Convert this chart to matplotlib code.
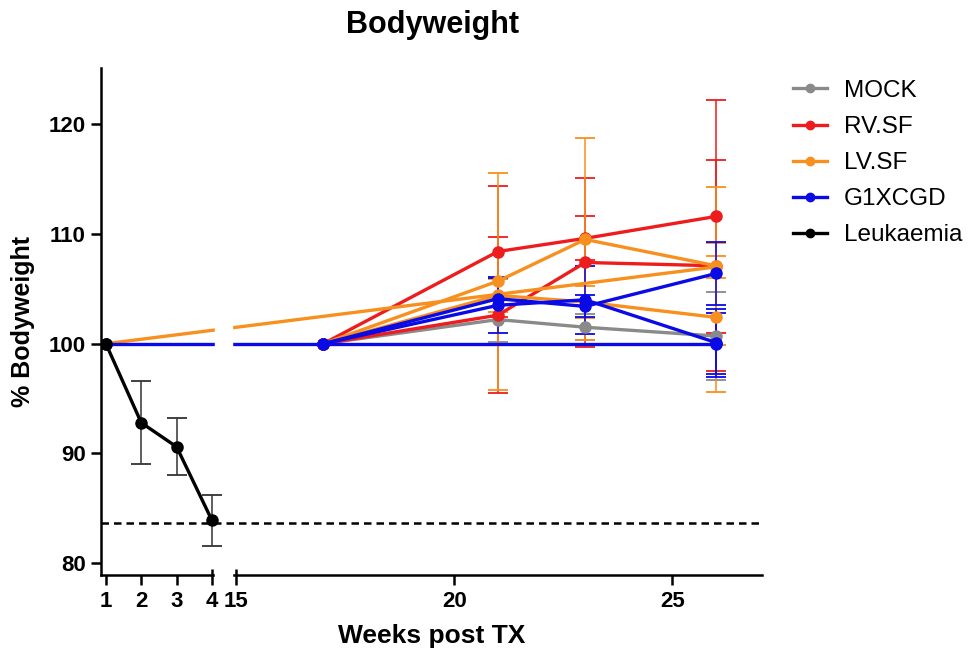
import numpy as np
import matplotlib
matplotlib.use('Agg')
import matplotlib.pyplot as plt
from matplotlib.patches import Rectangle
from matplotlib.lines import Line2D

plt.rcParams['font.family'] = ['Liberation Sans', 'DejaVu Sans']

# --- data ---
weeks_late = [17, 21, 23, 26]
weeks_long = [1, 26]
nan = np.nan

mock = [100, 102.2, 101.5, 100.7]
mock_err = [nan, 2.0, 1.2, 4.0]

rvsf_a = [100, 108.4, 109.6, 111.6]
rvsf_a_err = [nan, 6.0, 2.0, 10.6]
rvsf_b = [100, 102.6, 107.4, 107.1]
rvsf_b_err = [nan, 7.1, 7.7, 9.6]

lvsf_a = [100, 105.7, 109.5, 107.1]
lvsf_a_err = [nan, 9.9, 9.2, 7.2]
lvsf_b = [100, 104.4, 103.8, 102.4]
lvsf_b_err = [nan, 1.5, 1.5, 6.8]
lvsf_long = [100, 107.0]
lvsf_long_err = [nan, 1.0]

g1_a = [100, 104.1, 103.4, 106.4]
g1_a_err = [nan, 2.0, 1.0, 2.9]
g1_b = [100, 103.5, 104.0, 100.1]
g1_b_err = [nan, 2.5, 3.1, 3.1]
g1_long = [100, 100.0]
g1_long_err = [nan, 2.8]

leuk_weeks = [1, 2, 3, 4]
leuk = [100, 92.8, 90.6, 83.9]
leuk_err = [nan, 3.8, 2.6, 2.3]

threshold = 83.7

xticks = [1, 2, 3, 4, 15, 20, 25]
groups = ['MOCK', 'RV.SF', 'LV.SF', 'G1XCGD', 'Leukaemia']

# --- broken x axis: 1-4 then 15-27 ---
K1 = 0.81
U4 = 3 * K1
U15 = U4 + 0.55


def fwd(x):
    x = np.asarray(x, float)
    return np.where(x <= 4, (x - 1) * K1,
                    np.where(x >= 15, U15 + (x - 15),
                             U4 + (x - 4) * (U15 - U4) / 11))


def inv(u):
    u = np.asarray(u, float)
    return np.where(u <= U4, 1 + u / K1,
                    np.where(u >= U15, 15 + (u - U15),
                             4 + (u - U4) * 11 / (U15 - U4)))


fig = plt.figure(figsize=(9.7, 6.5), dpi=100)
ax = fig.add_axes([0.104, 0.115, 0.682, 0.78])
ax.set_xscale('function', functions=(fwd, inv))

GREY = '#8a8a8a'
RED = '#ee1c1c'
ORANGE = '#f7901e'
BLUE = '#0a0ae6'
colors = [GREY, RED, ORANGE, BLUE, 'black']

style = dict(lw=2.4, marker='o', ms=8, capsize=7, elinewidth=1.1, capthick=1.3)


def series(x, y, err, color, z=2, ecolor=None):
    ax.errorbar(x, y, yerr=err, color=color, ecolor=ecolor, zorder=z, **style)


series(weeks_late, mock, mock_err, GREY)
series(weeks_late, rvsf_a, rvsf_a_err, RED)
series(weeks_late, rvsf_b, rvsf_b_err, RED)
series(weeks_late, lvsf_a, lvsf_a_err, ORANGE)
series(weeks_late, lvsf_b, lvsf_b_err, ORANGE)
series(weeks_long, lvsf_long, lvsf_long_err, ORANGE)
series(weeks_late, g1_a, g1_a_err, BLUE)
series(weeks_late, g1_b, g1_b_err, BLUE)
series(weeks_long, g1_long, g1_long_err, BLUE)
series(leuk_weeks, leuk, leuk_err, 'black', z=5, ecolor='#333333')

ax.axhline(threshold, color='black', ls=(0, (3, 2)), lw=1.8, zorder=4)

# white gap where the axis is broken
ax.add_patch(Rectangle((5.4, -0.012), 13.2 - 5.4, 1.012,
                       transform=ax.get_xaxis_transform(), color='white',
                       zorder=3, clip_on=False))
ax.vlines([4, 15], 0, 0.013, transform=ax.get_xaxis_transform(),
          colors='black', lw=1.8, clip_on=False, zorder=4)

ax.set_xlim(0.858, 27.06)
ax.set_ylim(78.9, 125.1)
ax.set_xticks(xticks)
ax.set_xticklabels([str(t) for t in xticks])
ax.set_yticks([80, 90, 100, 110, 120])
ax.minorticks_off()

for s in ['top', 'right']:
    ax.spines[s].set_visible(False)
for s in ['left', 'bottom']:
    ax.spines[s].set_linewidth(1.8)
ax.tick_params(width=1.8, length=7, labelsize=16, pad=4)
for lab in ax.get_xticklabels() + ax.get_yticklabels():
    lab.set_fontweight('bold')

ax.set_xlabel('Weeks post TX', fontsize=19, fontweight='bold', labelpad=9)
ax.set_ylabel('% Bodyweight', fontsize=18, fontweight='bold', labelpad=10)
fig.text(0.446, 0.962, 'Bodyweight', ha='center', va='center',
         fontsize=22, fontweight='bold')

handles = [Line2D([], [], color=c, lw=2.4, marker='o', ms=6) for c in colors]
leg = fig.legend(handles, groups, loc='upper left',
                 bbox_to_anchor=(0.8175, 0.877), frameon=False,
                 fontsize=17.5, handlelength=1.4, handletextpad=0.7,
                 labelspacing=0.58, borderpad=0, borderaxespad=0)

fig.savefig('out.png', dpi=100)
